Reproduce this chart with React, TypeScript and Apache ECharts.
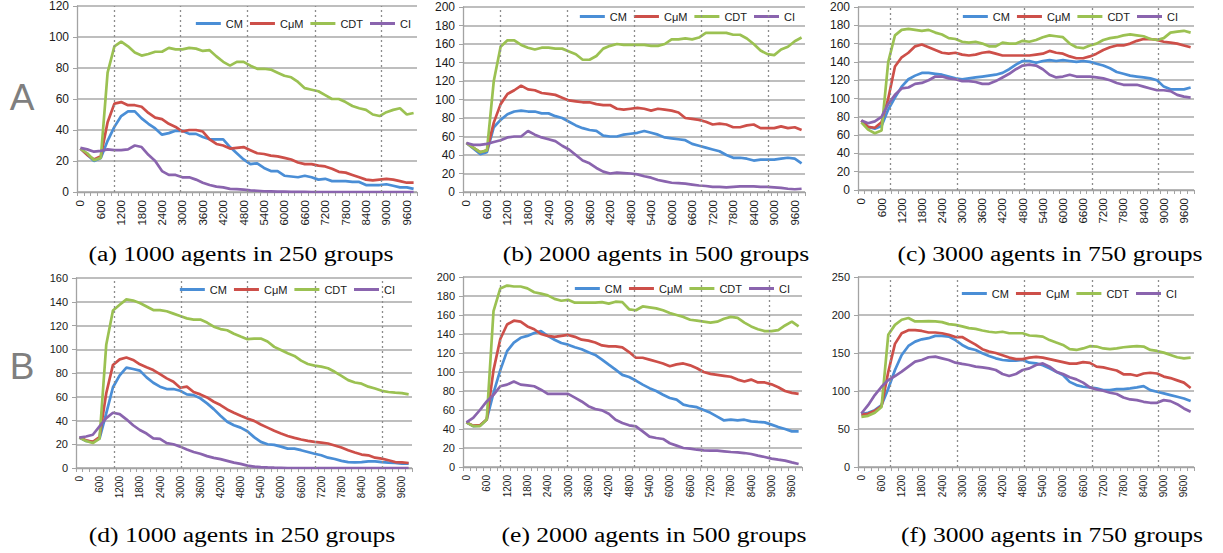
import React, { useEffect, useRef } from 'react';
import * as echarts from 'echarts';

const steps = ['0','200','400','600','800','1000','1200','1400','1600','1800','2000','2200','2400','2600','2800','3000','3200','3400','3600','3800','4000','4200','4400','4600','4800','5000','5200','5400','5600','5800','6000','6200','6400','6600','6800','7000','7200','7400','7600','7800','8000','8200','8400','8600','8800','9000','9200','9400','9600','9800'];

const names = ['CM', 'CμM', 'CDT', 'CI'];
const colors = ['#4A8ED6', '#CD4F49', '#9BC152', '#8A64AE'];

// (a) 1000 agents in 250 groups, condition A
const cmA = [28,24,20,22,33,42,49,52,52,47.5,44,41,37,38,39.5,39.5,37.5,37.5,35.5,34,34,34,29,25,21,18,18.5,15.5,13.5,13.5,10.5,10,9.5,10.5,9.5,8,8.5,7,7,7,6.5,6.5,4.5,4.5,4.5,5,4,3,3,2];
const cumA = [28,24,21,23,45,57,58,56,56,55,51,48,47,44,42,39,40,40,39,34,31,30,28,28.5,29,27,25,24.5,23.5,23,22,21,19,18,18,17,16.5,15,13,12.5,11,9.5,8,7.5,8,8.5,8,7,6,6];
const cdtA = [28,25,20.5,22,77,94,97,94,90,88,89,90.5,90.5,93,92,92,93,92.5,91,91.5,87.5,84,81.5,84,84,81.5,79.5,79.5,79,77,75,74,71,67,66,65,62.5,60,60,58,55.5,54,53,50,49,51.5,53,54,50,51];
const ciA = [28.5,27.5,26,26.5,27.5,27,27,27.5,30,29,24,20,13.5,11,11,9.5,9.5,8,6,4.5,3.5,3,2,1.8,1.5,1,0.8,0.5,0.4,0.3,0.2,0.1,0.1,0.1,0,0,0,0,0,0,0,0,0,0,0,0,0,0,0,0];

// (b) 2000 agents in 500 groups, condition A
const cmB = [53,47,41,43,70,78,84,87,88,87,87,85,85,82,80,76,72,69,67,66,61,60,60,62,63,64,66,64,62,59,58,57,56,52,50,48,46,44,40,37,37,36,34,35,35,35,36,37,36,31];
const cumB = [53,48,43,45,75,95,106,110,115,111,110,107,106,105,102,99,98,97,97,95,94,94,90,89,90,91,90,88,90,89,88,86,80,79,78,76,73,74,73,70,70,72,73,69,69,69,71,69,70,67];
const cdtB = [53,48,43,45,120,157,164,164,159,156,154,156,156,155,155,152,149,143,143,147,155,158,160,159,159,159,159,158,158,160,165,165,166,165,167,172,172,172,172,170,170,166,160,153,149,148,154,157,163,167];
const ciB = [53,51,51,52,54,56,59,60,60,66,62,59,57,55,50,46,40,34,31,26,22,20,21,20.5,20,19,17,15.5,13,11.5,10,9.5,9,8,7,6.5,5.5,5.5,5,5.5,6,6,6,5.5,5.5,5,4.5,3.5,3,3.5];

// (c) 3000 agents in 750 groups, condition A
const cmC = [76,69,67,70,88,101,113,121,125,128,128,127,126,124,122,121,122,123,124,125,126,128,132,137,141,141,139,141,142,141,142,141,140,141,140,138,136,133,129,127,125,124,123,122,120,113,110,110,110,112];
const cumC = [76,69,68,74,100,135,145,150,157,159,156,153,150,149,150,148,147,148,150,151,149,147,147,147,147,147,148,149,152,150,149,146,144,144,146,149,153,156,158,158,160,163,165,165,164,162,161,160,158,156];
const cdtC = [74,66,62,65,140,169,175,176,175,174,175,172,170,166,165,162,161,162,160,157,157,161,160,160,163,162,164,167,169,168,167,160,156,155,158,160,164,166,167,169,170,169,168,165,164,166,172,173,174,172];
const ciC = [76,73,75,80,94,104,111,112,116,117,120,124,124,122,121,119,119,118,116,116,119,123,127,132,136,137,136,132,126,123,124,126,124,124,124,123,122,120,117,115,115,115,113,111,109,109,108,104,102,101];

// (d) 1000 agents in 250 groups, condition B
const cmD = [25.6,22.8,22,24.8,46,68,78,84.5,83.4,82,76.3,71.8,68.5,66.5,66.5,65,62,61.4,58.6,54.4,49.6,44,38.9,36,34,31,26,22,20,19.5,18,16.3,16.3,15,13.5,12,10.7,8.7,7.6,6,5,4.8,5,5.6,5.6,5,4.5,4.2,3.7,3.7];
const cumD = [25.6,23.4,22,26,63,86.8,91.5,93,91,87.3,84.8,82.5,79,75.5,72.7,67.6,68.5,64,62,59.4,55.8,53,49.3,46.5,44,41.7,39.7,36.6,34,31.3,29,27,25.4,24,22.8,22,21.4,20.6,19,17.2,15,13,11.3,10.7,8.7,7.9,6.5,5,4.8,4.2];
const cdtD = [25.6,22.8,21,24.8,103.7,132.7,137.5,142,141,139,136,133,133,132,130,128,126,125,125,122.5,119,117,116,113,110.7,108.5,109,109,106.5,102,99.4,96.6,94.4,90.4,87.6,86.2,85.4,84,81,77.5,74,72,71,68.5,67,65,64,63.4,63,62];
const ciD = [25.6,26.5,28,35,42,46.5,45.4,41,36,32,29,25,24.5,21,20,18,15.5,13.5,12,10,8.5,7.5,6,4.5,3.5,2,1.2,0.8,0.5,0.3,0.2,0,0,0,0,0,0,0,0,0,0,0,0,0,0,0,0,0,0,0];

// (e) 2000 agents in 500 groups, condition B
const cmE = [47,43,43.5,50,78,102,122,131,136,138,141,143,138,134,130.5,128.8,126,124,120.7,118,113,107.7,102.5,97,94.7,91,86.7,83,80,76,72.6,70.9,65.6,64,63,60,57,53,49,49.8,49,49.8,48,47.4,47,44.6,42,40,37.5,37.5];
const cumE = [47,43.5,44,50,102,134.7,150,154,153,148,145,140,138,137,138,139,137,134,133,131,128,127,127,126,121,115,115,113,111,109,106,108,109,107,104,100,98,97,96,95,92,90,92,89,89,87,84,80,78,77];
const cdtE = [47,43,43,50,164,188,191,190,190,188,184,182.5,180.7,177,175,176,173,173,173,173,173.5,172,174,173.5,166,165,169,168,167,165,162,160,158,155,154,153,152,153,156,158,157,152,148,145,143,143,144,149,153,148];
const ciE = [47,51.6,60,69,76,85,86.7,90,86.7,86,85,81.4,77,77,77,77,73,69,64,61,59.6,56,49.8,46.3,43.9,42.8,37.5,32,30.5,29.5,25,22.5,20,19.3,18.2,17.5,17.2,17.2,16.5,15.8,15.4,14.7,13.7,12,10.5,8.8,7.7,6.7,4.9,3.2];

// (f) 3000 agents in 750 groups, condition B
const cmF = [69.5,71.3,74.8,81.4,103,127.6,147.4,159.3,165,168,169.5,172.5,172.5,171.6,167,160.6,156,154,149.6,146,143,140.8,140,140,140.8,137.3,136.4,134,129.8,125.4,121,112,107.8,105.6,104.8,103.4,101.2,101.2,102.5,102.5,103.4,104.8,106.5,101.2,99,96.8,94.6,92.4,90.2,86.7];
const cumF = [69,70,74,80,125,162,176,180,180,179,177,177,176,174,171,171,166,161,155,152,150,147,144,142,142,144,145,144,142,140,138,136,136,138,137,132,131,129,127,122,122,120,123,124,123,119,117,114,111,104];
const cdtF = [66,67.3,71.3,79,174,187,193.7,196,191.5,191.5,192,191.5,190.6,188,187,185,182.7,181.8,179.6,178,177,178,176,176,176,173,172.5,171.6,167,163.7,160.6,155,154,156,159,158.5,156,155,156,157.6,158.5,159,158.5,154,152.7,150.5,147.5,144.4,143,144];
const ciF = [70.4,81.4,94.6,105.6,114.4,119.7,125.4,132,138.6,140.8,144.4,145.2,143,140.8,137.3,135.6,134.2,132,131,129.8,127.6,122.4,119.7,122.4,127.6,129.8,134.2,136.4,132,125.4,122.4,118,115.3,111,104.8,102,100.3,97.7,96,91.5,88.9,88,85.8,84.5,84.5,88,86.7,82.7,77,72.6];

const yMaxes = [120, 200, 200, 160, 200, 250];
const ySteps = [20, 20, 20, 20, 20, 50];
const captions = [
  '(a) 1000 agents in 250 groups',
  '(b) 2000 agents in 500 groups',
  '(c) 3000 agents in 750 groups',
  '(d) 1000 agents in 250 groups',
  '(e) 2000 agents in 500 groups',
  '(f) 3000 agents in 750 groups',
];
const panelData = [
  [cmA, cumA, cdtA, ciA],
  [cmB, cumB, cdtB, ciB],
  [cmC, cumC, cdtC, ciC],
  [cmD, cumD, cdtD, ciD],
  [cmE, cumE, cdtE, ciE],
  [cmF, cumF, cdtF, ciF],
];

// layout (pixels)
const grids = [
  { left: 77, top: 6, width: 340, height: 186 },
  { left: 463, top: 7, width: 342, height: 185 },
  { left: 858, top: 7, width: 336, height: 183 },
  { left: 76, top: 278, width: 336, height: 190 },
  { left: 463, top: 277, width: 339, height: 190 },
  { left: 858, top: 277, width: 336, height: 190 },
];
const legendPos = [
  { right: 812, top: 18 },
  { right: 428, top: 11 },
  { right: 45, top: 11 },
  { right: 828, top: 284 },
  { right: 433, top: 283 },
  { right: 46, top: 288 },
];
// dotted phase markers, in category-width units from the left of each plot
const guides = [
  [5.44, 15.25, 25.1, 35.0, 44.8],
  [5.41, 15.25, 25.04, 34.9, 44.7],
  [4.76, 14.7, 24.8, 34.8, 44.7],
  [5.65, 15.6, 25.5, 35.6, 45.5],
  [5.46, 15.4, 25.3, 35.2, 45.1],
  [4.76, 14.7, 24.8, 34.8, 44.7],
];
const captionPos = [
  { x: 241, y: 254 },
  { x: 656, y: 254 },
  { x: 1050, y: 254 },
  { x: 242, y: 535 },
  { x: 654, y: 535 },
  { x: 1052, y: 535 },
];
const xLabelSize = [11.5, 11.5, 11.5, 10, 10, 10];
const yLabelSize = [12, 12, 12, 11, 11, 11];

export default function App() {
  const ref = useRef<HTMLDivElement>(null);
  useEffect(() => {
    if (!ref.current) return;
    const chart = echarts.init(ref.current, null, { renderer: 'svg' });
    const axisGray = '#a3a3a3';
    const series: any[] = [];
    panelData.forEach((sets, p) => {
      sets.forEach((vals, k) => {
        series.push({
          type: 'line',
          name: names[k],
          xAxisIndex: p,
          yAxisIndex: p,
          data: vals,
          showSymbol: false,
          symbol: 'none',
          lineStyle: { color: colors[k], width: 2.7 },
          itemStyle: { color: colors[k] },
          z: 3,
        });
      });
      series.push({
        type: 'line',
        name: 'guide' + p,
        xAxisIndex: 6 + p,
        yAxisIndex: p,
        data: [],
        silent: true,
        z: 2,
        markLine: {
          silent: true,
          symbol: ['none', 'none'],
          label: { show: false },
          lineStyle: { type: [2, 3], color: '#8c8c8c', width: 1.3 },
          data: guides[p].map((v) => ({ xAxis: v })),
        },
      });
    });

    const graphic: any[] = [
      { type: 'text', x: 22, y: 97, style: { text: 'A', fontSize: 37, fontFamily: 'Liberation Sans', fill: '#7f7f7f', textAlign: 'center', textVerticalAlign: 'middle' } },
      { type: 'text', x: 22, y: 366, style: { text: 'B', fontSize: 37, fontFamily: 'Liberation Sans', fill: '#7f7f7f', textAlign: 'center', textVerticalAlign: 'middle' } },
    ];
    captions.forEach((c, i) => {
      graphic.push({
        type: 'text',
        x: captionPos[i].x,
        y: captionPos[i].y,
        scaleX: 1.28,
        style: { text: c, fontSize: 20, fontFamily: '"Liberation Serif", "Times New Roman", serif', fill: '#000', textAlign: 'center', textVerticalAlign: 'middle' },
      });
    });

    chart.setOption({
      animation: false,
      backgroundColor: '#ffffff',
      grid: grids.map((g) => ({ ...g, containLabel: false })),
      legend: legendPos.map((l) => ({
        right: l.right,
        top: l.top,
        data: names,
        icon: 'rect',
        itemWidth: 25,
        itemHeight: 3,
        itemGap: 7,
        padding: 0,
        selectedMode: false,
        textStyle: { fontSize: 11, color: '#1a1a1a', fontFamily: 'Liberation Sans' },
      })),
      xAxis: [
        ...grids.map((g, i) => ({
          type: 'category',
          gridIndex: i,
          data: steps,
          boundaryGap: true,
          axisLine: { lineStyle: { color: axisGray, width: 1.3 } },
          axisTick: { show: true, interval: 0, length: 4, lineStyle: { color: axisGray } },
          axisLabel: { interval: 2, rotate: 90, fontSize: xLabelSize[i], color: '#1a1a1a', margin: 8, fontFamily: 'Liberation Sans' },
          splitLine: { show: false },
        })),
        ...grids.map((g, i) => ({ type: 'value', gridIndex: i, min: 0, max: 50, show: false })),
      ],
      yAxis: grids.map((g, i) => ({
        type: 'value',
        gridIndex: i,
        min: 0,
        max: yMaxes[i],
        interval: ySteps[i],
        axisLine: { show: true, lineStyle: { color: axisGray, width: 1.3 } },
        axisTick: { show: true, length: 4, lineStyle: { color: axisGray } },
        splitLine: { show: true, lineStyle: { color: '#a8a8a8', width: 1.5 } },
        axisLabel: { fontSize: yLabelSize[i], color: '#1a1a1a', margin: 8, fontFamily: 'Liberation Sans' },
      })),
      series,
      graphic,
    });
    return () => chart.dispose();
  }, []);
  return <div ref={ref} style={{ position: 'fixed', left: 0, top: 0, width: 1223, height: 553 }} />;
}
